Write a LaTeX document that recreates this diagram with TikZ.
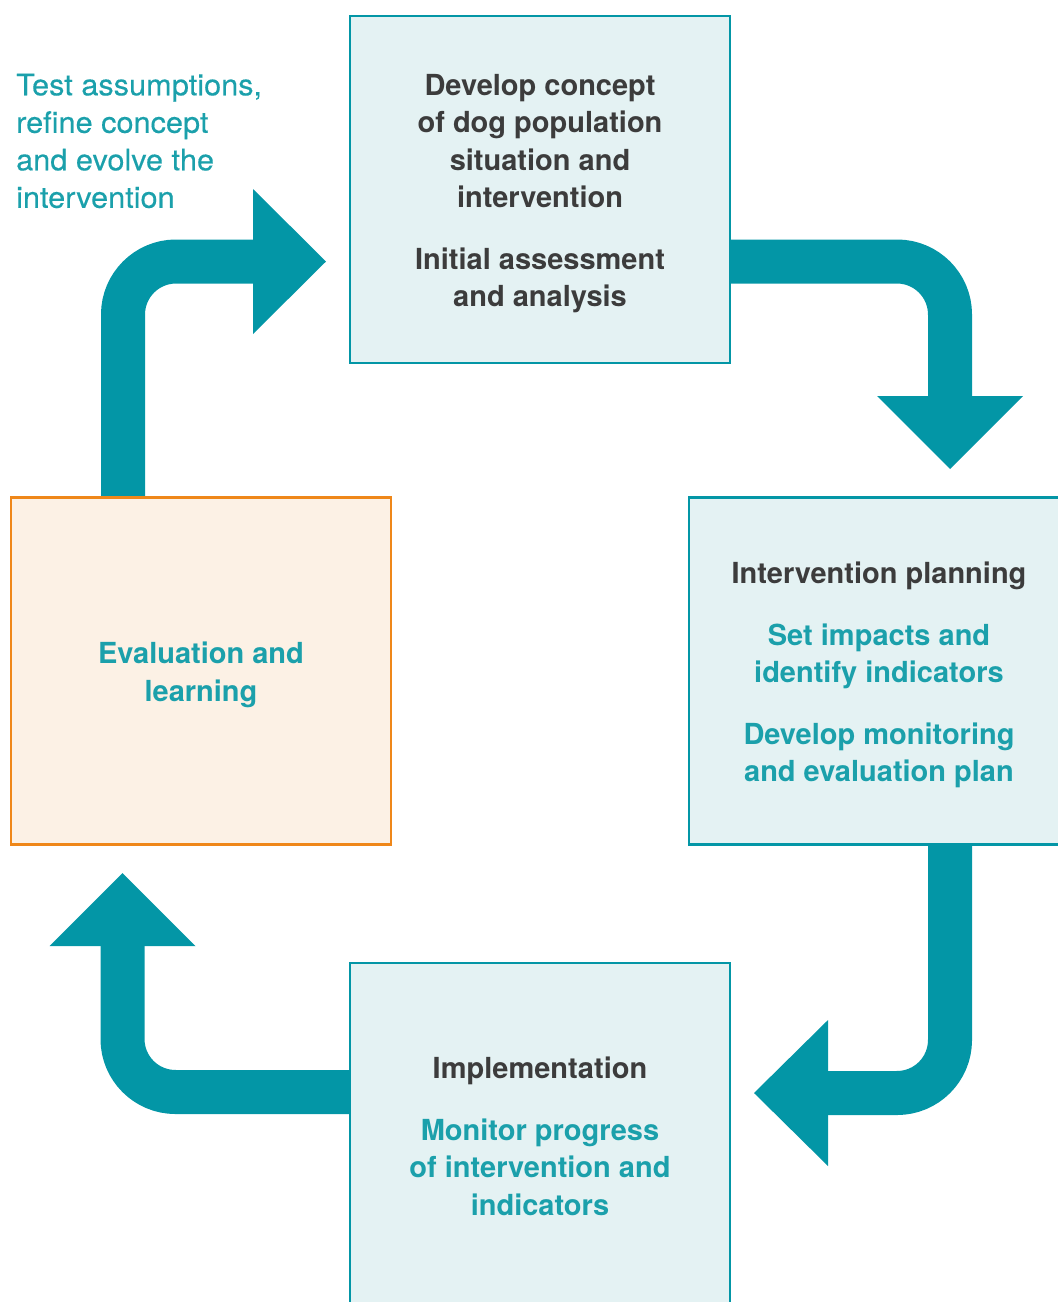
\documentclass[tikz,border=0pt]{standalone}
\usepackage{fontspec}
\setmainfont{TeX Gyre Heros}
\newfontfamily\notefamily[FakeStretch=1.04,FakeBold=0.3]{TeX Gyre Heros}
\definecolor{tealline}{HTML}{0396A6}
\definecolor{tealfill}{HTML}{E4F2F3}
\definecolor{tealtext}{HTML}{1BA0AB}
\definecolor{inkgray}{HTML}{3C3C3C}
\definecolor{orangeline}{HTML}{EF8719}
\definecolor{orangefill}{HTML}{FCF1E5}
\newcommand\boxfont{\bfseries\fontsize{29}{37.5}\selectfont}
\newcommand\notefont{\notefamily\fontsize{29.5}{37.5}\selectfont}
\tikzset{
  box/.style={draw=tealline, fill=tealfill, line width=2.5pt,
    minimum width=380pt, minimum height=347pt, inner sep=0pt},
  evalbox/.style={box, draw=orangeline, fill=orangefill},
  boxtext/.style={align=center, inner sep=0pt, font=\boxfont, text=tealtext},
  band/.style={draw=tealline, line width=44pt, rounded corners=53pt},
  head/.style={fill=tealline}
}
\begin{document}
\begin{tikzpicture}[x=1pt,y=-1pt]
    \useasboundingbox (0,0) rectangle (1058,1302);
    \clip (0,0) rectangle (1058,1302);
    % arrow ends
    \coordinate (up0) at (123,497);
    \coordinate (up1) at (253,261.5);
    \coordinate (rt0) at (730,261.5);
    \coordinate (rt1) at (950,396);
    \coordinate (dn0) at (950,845);
    \coordinate (dn1) at (828,1093);
    \coordinate (lf0) at (350,1092);
    \coordinate (lf1) at (122.5,946);
    % bands
    \draw[band] (up0) |- (up1);
    \draw[band] (rt0) -| (rt1);
    \draw[band] (dn0) |- (dn1);
    \draw[band] (lf0) -| (lf1);
    % heads
    \fill[head] (up1) ++(0,-72.5) -- ++(73,72.5) -- ++(-73,72.5) -- cycle;
    \fill[head] (rt1) ++(-73,0) -- ++(73,73) -- ++(73,-73) -- cycle;
    \fill[head] (dn1) ++(0,-73) -- ++(-74,73) -- ++(74,73) -- cycle;
    \fill[head] (lf1) ++(-73,0) -- ++(73,-73) -- ++(73,73) -- cycle;
    % boxes
    \node[box] (concept) at (540,189.5) {};
    \node[box] (planning) at (879,671) {};
    \node[box] (implement) at (540,1136.5) {};
    \node[evalbox] (evaluate) at (201,671) {};
    % texts
    \node[boxtext, text=inkgray] (conceptText) at ([yshift=-4pt]concept.center)
        {Develop concept\\of dog population\\situation and\\intervention\\[24pt]Initial assessment\\and analysis};
    \node[boxtext] (planningText) at ([yshift=-4pt]planning.center)
        {\textcolor{inkgray}{Intervention planning}\\[24pt]Set impacts and\\identify indicators\\[24pt]Develop monitoring\\and evaluation plan};
    \node[boxtext] (implementText) at (implement.center)
        {\textcolor{inkgray}{Implementation}\\[24pt]Monitor progress\\of intervention and\\indicators};
    \node[boxtext] (evaluateText) at ([yshift=-4pt]evaluate.center) {Evaluation and\\learning};
    \node[anchor=west, align=left, inner sep=0pt, text=tealtext, font=\notefont] (note) at (16,141)
        {Test assumptions,\\refine concept\\and evolve the\\intervention};
\end{tikzpicture}
\end{document}
